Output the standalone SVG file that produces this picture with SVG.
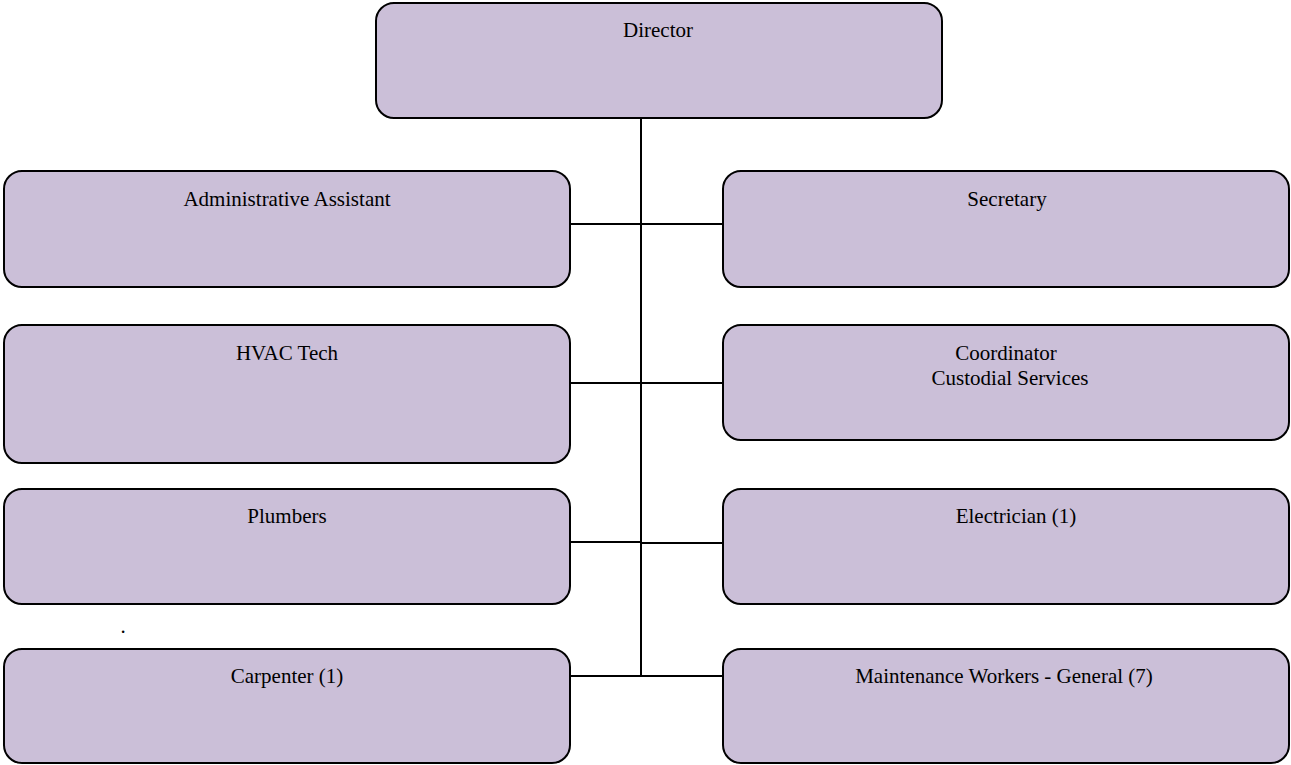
<svg xmlns="http://www.w3.org/2000/svg" width="1291" height="765" viewBox="0 0 1291 765">
<style>
.box{fill:#cbbfd8;stroke:#000;stroke-width:2}
.t{font-family:"Liberation Serif","Times New Roman",serif;font-size:21px;fill:#000;text-anchor:middle}
.c{stroke:#000;stroke-width:2;fill:none}
</style>
<rect width="1291" height="765" fill="#fff"/>
<g id="connectors">
<line class="c" x1="641" y1="118" x2="641" y2="677"/>
<line class="c" x1="570" y1="224" x2="723" y2="224"/>
<line class="c" x1="570" y1="383" x2="723" y2="383"/>
<line class="c" x1="570" y1="542" x2="641" y2="542"/>
<line class="c" x1="641" y1="543" x2="723" y2="543"/>
<line class="c" x1="570" y1="676" x2="723" y2="676"/>
</g>
<g id="director"><rect class="box" x="376" y="3" width="566" height="115" rx="18"/><text class="t" x="658" y="37">Director</text></g>
<g id="admin"><rect class="box" x="4" y="171" width="566" height="116" rx="18"/><text class="t" x="287" y="206">Administrative Assistant</text></g>
<g id="secretary"><rect class="box" x="723" y="171" width="566" height="116" rx="18"/><text class="t" x="1007" y="206">Secretary</text></g>
<g id="hvac"><rect class="box" x="4" y="325" width="566" height="138" rx="18"/><text class="t" x="287" y="360">HVAC Tech</text></g>
<g id="coordinator"><rect class="box" x="723" y="325" width="566" height="115" rx="18"/><text class="t" x="1006" y="360">Coordinator</text><text class="t" x="1010" y="385">Custodial Services</text></g>
<g id="plumbers"><rect class="box" x="4" y="489" width="566" height="115" rx="18"/><text class="t" x="287" y="523">Plumbers</text></g>
<g id="electrician"><rect class="box" x="723" y="489" width="566" height="115" rx="18"/><text class="t" x="1016" y="523">Electrician (1)</text></g>
<text class="t" x="123" y="633">.</text>
<g id="carpenter"><rect class="box" x="4" y="649" width="566" height="114" rx="18"/><text class="t" x="287" y="683">Carpenter (1)</text></g>
<g id="maintenance"><rect class="box" x="723" y="649" width="566" height="114" rx="18"/><text class="t" x="1004" y="683">Maintenance Workers - General (7)</text></g>
</svg>
